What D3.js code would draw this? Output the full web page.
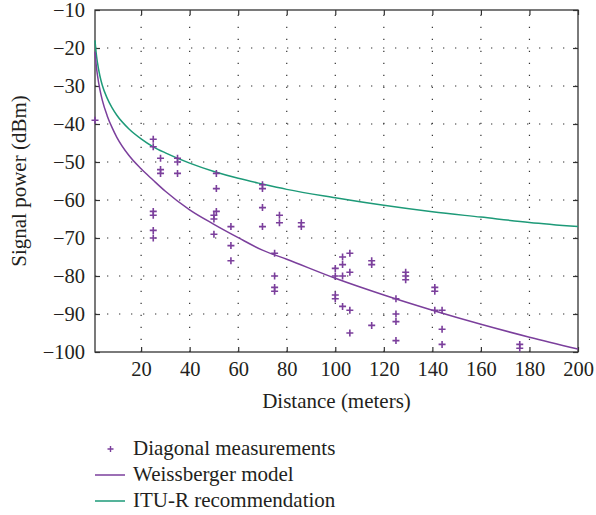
<!DOCTYPE html>
<html>
<head>
<meta charset="utf-8">
<script src="https://cdn.jsdelivr.net/npm/d3@7"></script>
<style>
  body { margin: 0; background: #fff; }
  svg text { font-family: "Liberation Serif", "DejaVu Serif", serif; fill: #231f20; }
</style>
</head>
<body>
<svg id="chart" width="596" height="515"></svg>
<script>
const measDist = [
	1,
	25, 25, 25, 25, 25, 25,
	28, 28, 28,
	35, 35, 35,
	51, 51, 51, 50, 50, 50,
	57, 57, 57,
	70, 70, 70, 70,
	75, 75, 75, 75,
	77, 77,
	86, 86,
	100, 100, 100, 100,
	103, 103, 103, 103,
	106, 106, 106, 106,
	115, 115, 115,
	125, 125, 125, 125,
	129, 129, 129,
	141, 141, 141,
	144, 144, 144,
	176, 176
];
const measPower = [
	-39,
	-44, -46, -63, -64, -68, -70,
	-49, -52, -53,
	-49, -50, -53,
	-53, -57, -63, -64, -65, -69,
	-67, -72, -76,
	-56, -57, -62, -67,
	-74, -80, -83, -84,
	-64, -66,
	-66, -67,
	-78, -80, -85, -86,
	-75, -77, -80, -88,
	-74, -79, -89, -95,
	-76, -77, -93,
	-86, -90, -92, -97,
	-79, -80, -81,
	-83, -84, -89,
	-89, -94, -98,
	-98, -99
];

// model curves
const curveDist = [1, 1.5, 2, 3, 4, 6, 8, 10, 15, 20, 25, 30, 40, 50, 60, 70, 80, 100, 120, 140, 160, 180, 200];
const weissberger = [-21, -24.5, -27.1, -30.9, -33.7, -37.8, -40.9, -43.5, -48.3, -51.8, -54.8, -57.7, -62.6, -66.4, -69.9, -73.2, -75.6, -80.6, -85, -89, -92.7, -96.1, -99.2];
const ituR = [-18, -21.4, -23.8, -27.3, -29.8, -33.2, -35.7, -37.7, -41.3, -43.9, -46, -47.6, -50.3, -52.5, -54.3, -55.8, -57.2, -59.4, -61.4, -63.1, -64.5, -65.9, -67];

const xTicks = [20, 40, 60, 80, 100, 120, 140, 160, 180, 200];
const yTicks = [-10, -20, -30, -40, -50, -60, -70, -80, -90, -100];

const legendLabels = ['Diagonal measurements', 'Weissberger model', 'ITU-R recommendation'];

const purple = '#7b3f9c';
const green = '#1d9a78';

const svg = d3.select('#chart');
const mLeft = 95, mRight = 578, mTop = 10, mBottom = 352;

const x = d3.scaleLinear().domain([1, 200]).range([mLeft, mRight]);
const y = d3.scaleLinear().domain([-100, -10]).range([mBottom, mTop]);

// dotted grid
const grid = svg.append('g')
	.attr('stroke', '#333')
	.attr('stroke-width', 1.2)
	.attr('stroke-dasharray', '1.3,10.7');
grid.selectAll('line.gx')
	.data(xTicks.slice(0, -1))
	.join('line')
	.attr('class', 'gx')
	.attr('x1', (d) => x(d)).attr('x2', (d) => x(d))
	.attr('y1', mBottom).attr('y2', mTop);
grid.selectAll('line.gy')
	.data(yTicks.slice(1, -1))
	.join('line')
	.attr('class', 'gy')
	.attr('x1', mLeft).attr('x2', mRight)
	.attr('y1', (d) => y(d)).attr('y2', (d) => y(d));

// axes, ticks pointing inward
const fmt = d3.format('d');
const xAxis = svg.append('g')
	.attr('transform', `translate(0,${mBottom})`)
	.call(d3.axisBottom(x).tickValues(xTicks).tickFormat(fmt).tickSizeInner(-5).tickSizeOuter(0).tickPadding(9));
const xTop = svg.append('g')
	.attr('transform', `translate(0,${mTop})`)
	.call(d3.axisTop(x).tickValues(xTicks).tickFormat('').tickSizeInner(-5).tickSizeOuter(0));
const yAxis = svg.append('g')
	.attr('transform', `translate(${mLeft},0)`)
	.call(d3.axisLeft(y).tickValues(yTicks).tickFormat(fmt).tickSizeInner(-5).tickSizeOuter(0).tickPadding(10));
const yRight = svg.append('g')
	.attr('transform', `translate(${mRight},0)`)
	.call(d3.axisRight(y).tickValues(yTicks).tickFormat('').tickSizeInner(-5).tickSizeOuter(0));

[xAxis, xTop, yAxis, yRight].forEach((g) => {
	g.select('.domain').remove();
	g.selectAll('line').attr('stroke', '#333').attr('stroke-width', 1.2);
	g.selectAll('text').attr('font-size', 20.5).attr('font-family', '"Liberation Serif", serif').attr('fill', '#231f20');
});

// frame
svg.append('rect')
	.attr('x', mLeft).attr('y', mTop)
	.attr('width', mRight - mLeft).attr('height', mBottom - mTop)
	.attr('fill', 'none')
	.attr('stroke', '#333')
	.attr('stroke-width', 1.3);

// model lines
const line = d3.line()
	.x((d, i) => x(curveDist[i]))
	.y((d) => y(d))
	.curve(d3.curveMonotoneX);

svg.append('path')
	.attr('d', line(ituR))
	.attr('fill', 'none')
	.attr('stroke', green)
	.attr('stroke-width', 1.5);

svg.append('path')
	.attr('d', line(weissberger))
	.attr('fill', 'none')
	.attr('stroke', purple)
	.attr('stroke-width', 1.5);

// measurement markers
const plus = (sel, s) => sel.attr('d', `M${-s},0H${s}M0,${-s}V${s}`);
svg.append('g')
	.selectAll('path')
	.data(measDist)
	.join('path')
	.attr('transform', (d, i) => `translate(${x(d)},${y(measPower[i])})`)
	.call(plus, 3.5)
	.attr('stroke', purple)
	.attr('stroke-width', 1.6)
	.attr('fill', 'none');

// axis titles
svg.append('text')
	.attr('x', (mLeft + mRight) / 2)
	.attr('y', 408)
	.attr('text-anchor', 'middle')
	.attr('font-size', 21)
	.text('Distance (meters)');

svg.append('text')
	.attr('transform', `translate(26,${(mTop + mBottom) / 2}) rotate(-90)`)
	.attr('text-anchor', 'middle')
	.attr('font-size', 21)
	.text('Signal power (dBm)');

// legend
const legend = svg.append('g');
const rows = [449, 475, 501];
legend.append('path')
	.attr('transform', `translate(110.5,${rows[0]})`)
	.call(plus, 3)
	.attr('stroke', purple)
	.attr('stroke-width', 1.4);
legend.append('line')
	.attr('x1', 95).attr('x2', 125)
	.attr('y1', rows[1]).attr('y2', rows[1])
	.attr('stroke', purple).attr('stroke-width', 1.5);
legend.append('line')
	.attr('x1', 95).attr('x2', 125)
	.attr('y1', rows[2]).attr('y2', rows[2])
	.attr('stroke', green).attr('stroke-width', 1.5);
legend.selectAll('text')
	.data(legendLabels)
	.join('text')
	.attr('x', 133)
	.attr('y', (d, i) => rows[i] + 6)
	.attr('font-size', 21)
	.text((d) => d);
</script>
</body>
</html>
